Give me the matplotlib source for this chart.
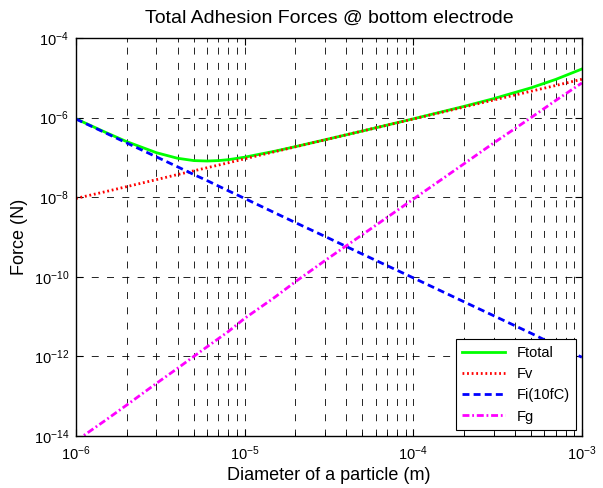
import math
import matplotlib
matplotlib.use("Agg")
import matplotlib.pyplot as plt
from matplotlib.ticker import LogLocator, FixedLocator, NullFormatter, FuncFormatter

plt.rcParams['font.family'] = ['Liberation Sans', 'DejaVu Sans']
plt.rcParams['mathtext.fontset'] = 'custom'
plt.rcParams['mathtext.rm'] = 'Liberation Sans'
plt.rcParams['lines.scale_dashes'] = False

# particle diameter (m)
diameter = [1e-6, 1.5e-6, 2e-6, 3e-6, 4e-6, 5e-6, 6e-6, 7e-6, 8e-6, 1e-5, 1.5e-5,
            2e-5, 3e-5, 5e-5, 1e-4, 2e-4, 3e-4, 5e-4, 7e-4, 1e-3]

# forces (N)
f_v = [9.3e-9, 1.38e-8, 1.84e-8, 2.76e-8, 3.7e-8, 4.6e-8, 5.5e-8, 6.4e-8, 7.3e-8, 9.2e-8, 1.38e-7,
       1.84e-7, 2.76e-7, 4.6e-7, 9.2e-7, 1.84e-6, 2.76e-6, 4.6e-6, 6.4e-6, 9.2e-6]
f_i = [9.2e-7, 4.1e-7, 2.3e-7, 1.03e-7, 5.8e-8, 3.7e-8, 2.6e-8, 1.9e-8, 1.45e-8, 9.3e-9, 4.1e-9,
       2.3e-9, 1.03e-9, 3.7e-10, 9.4e-11, 2.35e-11, 1.05e-11, 3.8e-12, 1.9e-12, 9.5e-13]
f_g = [7.5e-15, 2.5e-14, 6e-14, 2.1e-13, 5e-13, 1e-12, 1.75e-12, 2.8e-12, 4.2e-12, 9e-12, 3e-11,
       7.5e-11, 2.56e-10, 1.15e-9, 8.9e-9, 6.9e-8, 2.3e-7, 1.0e-6, 2.7e-6, 7.4e-6]
f_total = [9.3e-7, 4.24e-7, 2.48e-7, 1.31e-7, 9.5e-8, 8.3e-8, 8.1e-8, 8.3e-8, 8.75e-8, 1.01e-7, 1.42e-7,
           1.86e-7, 2.77e-7, 4.6e-7, 9.3e-7, 1.91e-6, 2.99e-6, 5.6e-6, 9.1e-6, 1.66e-5]

y_ticks = [1e-14, 1e-12, 1e-10, 1e-8, 1e-6, 1e-4]

fig = plt.figure(figsize=(6.03, 4.88), dpi=100)
ax = fig.add_axes([0.126, 0.1066, 0.839, 0.8156])

ax.loglog(diameter, f_total, color=(0, 1, 0), lw=2.0, label='Ftotal')
ax.loglog(diameter, f_v, color=(1, 0, 0), lw=2.0, ls=(0, (1.3, 2.0)), label='Fv')
ax.loglog(diameter, f_i, color=(0, 0, 1), lw=2.0, ls=(0, (5, 3)), label='Fi(10fC)')
ax.loglog(diameter, f_g, color=(1, 0, 1), lw=2.0, ls=(0, (5, 2, 1.3, 2)), label='Fg')

ax.set_xlim(1e-6, 1e-3)
ax.set_ylim(1e-14, 1e-4)


def pow10(v, pos):
    e = int(round(math.log10(v)))
    return r'$\mathregular{10^{%d}}$' % e


ax.xaxis.set_major_locator(LogLocator(base=10, numticks=10))
ax.xaxis.set_minor_locator(LogLocator(base=10, subs=range(2, 10), numticks=20))
ax.xaxis.set_minor_formatter(NullFormatter())
ax.xaxis.set_major_formatter(FuncFormatter(pow10))
ax.yaxis.set_major_locator(FixedLocator(y_ticks))
ax.yaxis.set_minor_locator(FixedLocator([]))
ax.yaxis.set_major_formatter(FuncFormatter(pow10))

ax.tick_params(which='both', direction='in', top=True, right=True, labelsize=10.5)
ax.tick_params(axis='x', which='major', pad=6)
ax.tick_params(axis='y', which='major', pad=5)
ax.tick_params(which='major', length=5)
ax.tick_params(which='minor', length=3)
for s in ax.spines.values():
    s.set_linewidth(1.0)

ax.grid(True, which='both', axis='x', color='k', lw=0.6, ls=(0, (5, 6)))
ax.grid(True, which='major', axis='y', color='k', lw=0.6, ls=(0, (5, 6)))

ax.set_title('Total Adhesion Forces @ bottom electrode', fontsize=14, pad=11)
ax.set_xlabel('Diameter of a particle (m)', fontsize=13, labelpad=3)
ax.set_ylabel('Force (N)', fontsize=13, labelpad=4)

leg = ax.legend(loc='lower right', fontsize=10.5, fancybox=False, framealpha=1,
                edgecolor='k', borderaxespad=0.4, handlelength=2.9,
                labelspacing=0.5, borderpad=0.45)
leg.get_frame().set_linewidth(0.8)

fig.savefig('out.png', dpi=100)
